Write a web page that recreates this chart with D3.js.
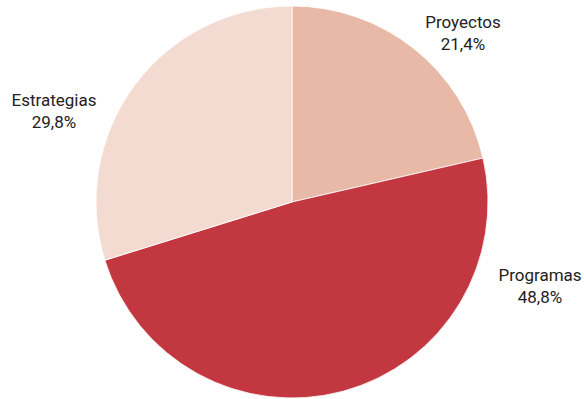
<!DOCTYPE html>
<html><head><meta charset="utf-8">
<script src="https://cdn.jsdelivr.net/npm/d3@7"></script>
<style>body{margin:0;background:#fff}svg{display:block}text{font-family:Roboto,"Noto Sans",sans-serif;font-size:17px;fill:#222}</style>
</head><body><svg id="c" width="584" height="399"></svg>
<script>
const categories = ["Proyectos", "Programas", "Estrategias"];
const values = [21.4, 48.8, 29.8];
const labels = ["21,4%", "48,8%", "29,8%"];
const colors = ["#E8B9A7", "#C33740", "#F4DBD2"];

const W = 584, H = 399, cx = 292, cy = 202, R = 196;
const labelPos = {Proyectos: [463, 28], Programas: [540, 281], Estrategias: [54, 106]};

const svg = d3.select("#c");
const g = svg.append("g").attr("transform", `translate(${cx},${cy})`);
const data = categories.map((c, i) => ({cat: c, v: values[i], lab: labels[i], col: colors[i]}));
const pie = d3.pie().value(d => d.v).sort(null);
const arc = d3.arc().innerRadius(0).outerRadius(R);
g.selectAll("path").data(pie(data)).join("path")
  .attr("d", arc).attr("fill", d => d.data.col)
  .attr("stroke", "#fff").attr("stroke-width", 0.8);

const t = svg.selectAll("text.lbl").data(data).join("text").attr("class", "lbl")
  .attr("text-anchor", "middle")
  .attr("x", d => labelPos[d.cat][0]).attr("y", d => labelPos[d.cat][1]);
t.append("tspan").attr("x", d => labelPos[d.cat][0]).text(d => d.cat);
t.append("tspan").attr("x", d => labelPos[d.cat][0]).attr("dy", 22).text(d => d.lab);
</script></body></html>
